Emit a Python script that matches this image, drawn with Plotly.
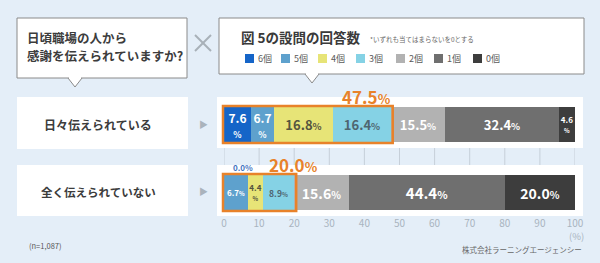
import plotly.graph_objects as go

# ---------------- data ----------------
categories = ["6個", "5個", "4個", "3個", "2個", "1個", "0個"]
rows = ["日々伝えられている", "全く伝えられていない"]
daily = [7.6, 6.7, 16.8, 16.4, 15.5, 32.4, 4.6]
never = [0.0, 6.7, 4.4, 8.9, 15.6, 44.4, 20.0]
x_ticks = [0, 10, 20, 30, 40, 50, 60, 70, 80, 90, 100]
highlight_count = 4  # 6個〜3個 are highlighted

# ---------------- style ----------------
FONT = "Noto Sans CJK JP, Noto Sans, sans-serif"
colors = ["#1565c8", "#5ea1cd", "#e7e477", "#85d2e5", "#b2b2b2", "#6f6f6f", "#3d3d3d"]
text_colors = ["#ffffff", "#ffffff", "#55553f", "#4e6570", "#ffffff", "#ffffff", "#ffffff"]
ORANGE = "#e8822a"
GRID = "#c6cfd9"
# label style per row & category: (mode, font size)
label_styles = [
    [("stack", 12), ("stack", 12), ("inline", 13), ("inline", 13), ("inline", 13), ("inline", 13), ("stack", 8)],
    [("none", 8), ("inline", 8), ("stack", 8), ("inline", 8.5), ("inline", 14), ("inline", 15), ("inline", 14)],
]

W, H = 600, 263
L, R, T, B = 224, 25, 97, 47
PW, PH = W - L - R, H - T - B


def px(x):
    return (x - L) / PW


def py(y):
    return (H - B - y) / PH


def vx(v):
    return L + v * PW / 100.0


def fmt(v, mode, size):
    if mode == "none":
        return ""
    pct = f"<span style='font-size:{size * 0.72:.1f}px'><b>%</b></span>"
    if mode == "stack":
        return f"<b>{v:.1f}</b><br>{pct}"
    return f"<b>{v:.1f}</b>{pct}"


fig = go.Figure()
series = [daily, never]
for i, cat in enumerate(categories):
    vals = [daily[i], never[i]]
    texts = [fmt(vals[r], *label_styles[r][i]) for r in range(2)]
    sizes = [label_styles[r][i][1] for r in range(2)]
    fig.add_trace(go.Bar(
        y=rows, x=vals, orientation="h", name=cat,
        marker=dict(color=colors[i], line=dict(width=0)),
        width=0.515,
        text=texts, textposition="inside", insidetextanchor="middle",
        textangle=0, constraintext="none",
        textfont=dict(color=text_colors[i], size=sizes, family=FONT),
        hoverinfo="skip", showlegend=False, cliponaxis=False,
    ))

shapes = []
annotations = []

# gridlines (drawn as shapes so that the white panels can cover them)
for t in x_ticks:
    shapes.append(dict(type="line", xref="x", yref="paper", x0=t, x1=t, y0=0, y1=1,
                       line=dict(color=GRID, width=1), layer="below"))


def rect(x0, y0, x1, y1, fill="white", line=None, lw=1, layer="above"):
    shapes.append(dict(type="rect", xref="paper", yref="paper",
                       x0=px(x0), x1=px(x1), y0=py(y0), y1=py(y1),
                       fillcolor=fill, layer=layer,
                       line=dict(color=line or "rgba(0,0,0,0)", width=lw if line else 0)))


def line(x0, y0, x1, y1, color, w):
    shapes.append(dict(type="line", xref="paper", yref="paper",
                       x0=px(x0), x1=px(x1), y0=py(y0), y1=py(y1),
                       line=dict(color=color, width=w)))


def pointer(cx, ytop, half=7, depth=9):
    line(cx - half + 1, ytop, cx + half - 1, ytop, "white", 2)
    shapes.append(dict(type="path", xref="paper", yref="paper",
                       path=f"M {px(cx - half)},{py(ytop)} L {px(cx)},{py(ytop + depth)} L {px(cx + half)},{py(ytop)}",
                       fillcolor="white", line=dict(color="#8a8a8a", width=1)))


def ann(x, y, text, size, color, xanchor="center", bold=False):
    if bold:
        text = f"<b>{text}</b>"
    annotations.append(dict(x=px(x), y=py(y), xref="paper", yref="paper", text=text,
                            showarrow=False, xanchor=xanchor, yanchor="middle",
                            font=dict(size=size, color=color, family=FONT)))


# white panels behind bars (cover the gridlines)
panel_y = [(97, 148), (165, 216)]
for y0, y1 in panel_y:
    rect(217, y0, 583, y1, layer="below")

# question box
rect(17, 18, 187, 78, line="#8a8a8a")
pointer(75, 78)
ann(25, 37, "日頃職場の人から", 12.5, "#3c3c3c", "left", True)
ann(25, 56, "感謝を伝えられていますか?", 12.5, "#3c3c3c", "left", True)

# × mark
line(195, 35, 211, 51, "#a8b0b8", 2)
line(195, 51, 211, 35, "#a8b0b8", 2)

# legend box
rect(219, 18, 584, 74, line="#8a8a8a")
pointer(312, 74)
ann(239, 37, "図 5の設問の回答数", 13.5, "#3a3a3a", "left", True)
ann(368, 39, "*いずれも当てはまらないを0とする", 6.5, "#666666", "left")
legend_x = [245, 281, 318, 356, 396, 434, 473]
for i, cat in enumerate(categories):
    rect(legend_x[i], 54, legend_x[i] + 9, 63, fill=colors[i])
    ann(legend_x[i] + 11, 58.5, cat, 9, "#5a5a5a", "left")

# row label boxes and arrows
row_y = [(97, 149), (165, 216)]
for r, name in enumerate(rows):
    y0, y1 = row_y[r]
    rect(17, y0, 188, y1)
    ann(98, (y0 + y1) / 2 + 1, name, 12 if r == 0 else 11.5, "#3c3c3c", "center", True)
    ann(203, (y0 + y1) / 2 + 1, "▶", 9, "#aab3bc")

# highlight boxes
bar_y = [(106, 143), (174, 211)]
for r in range(2):
    s = sum(series[r][:highlight_count])
    y0, y1 = bar_y[r]
    shapes.append(dict(type="rect", xref="paper", yref="paper",
                       x0=px(vx(0) - 1), x1=px(vx(s) + 2), y0=py(y0), y1=py(y1),
                       line=dict(color=ORANGE, width=2.5), fillcolor="rgba(0,0,0,0)"))
    lab = f"<b>{s:.1f}</b><span style='font-size:13px'><b>%</b></span>"
    if r == 0:
        ann(vx(s) + 2, 96, lab, 17, ORANGE, "right")
    else:
        ann(vx(s) - 1, 164, lab, 17, ORANGE, "center")

# zero-width segment label
ann(vx(0) + 19, 167, f"{never[0]:.1f}%", 8, "#3f74bf", "center", True)

# axis unit, notes
ann(576, 236, "(%)", 9.5, "#a9b4bf")
ann(27, 245, "(n=1,087)", 7.5, "#555555", "left")
ann(584, 250, "株式会社ラーニングエージェンシー", 7.5, "#666666", "right")

fig.update_layout(
    width=W, height=H,
    margin=dict(l=L, r=R, t=T, b=B, pad=0),
    barmode="stack", bargap=0,
    paper_bgcolor="#e4eef8", plot_bgcolor="rgba(0,0,0,0)",
    font=dict(family=FONT),
    showlegend=False,
    shapes=shapes, annotations=annotations,
    xaxis=dict(range=[0, 100], tickvals=x_ticks, ticktext=[str(t) for t in x_ticks],
               showgrid=False, zeroline=False, showline=False, ticks="",
               tickfont=dict(size=10, color="#a9b4bf", family=FONT), fixedrange=True),
    yaxis=dict(type="category", categoryarray=rows, categoryorder="array",
               range=[1.346, -0.404], autorange=False,
               showticklabels=False, showgrid=False, zeroline=False, fixedrange=True),
)

fig.write_html("out.html")
